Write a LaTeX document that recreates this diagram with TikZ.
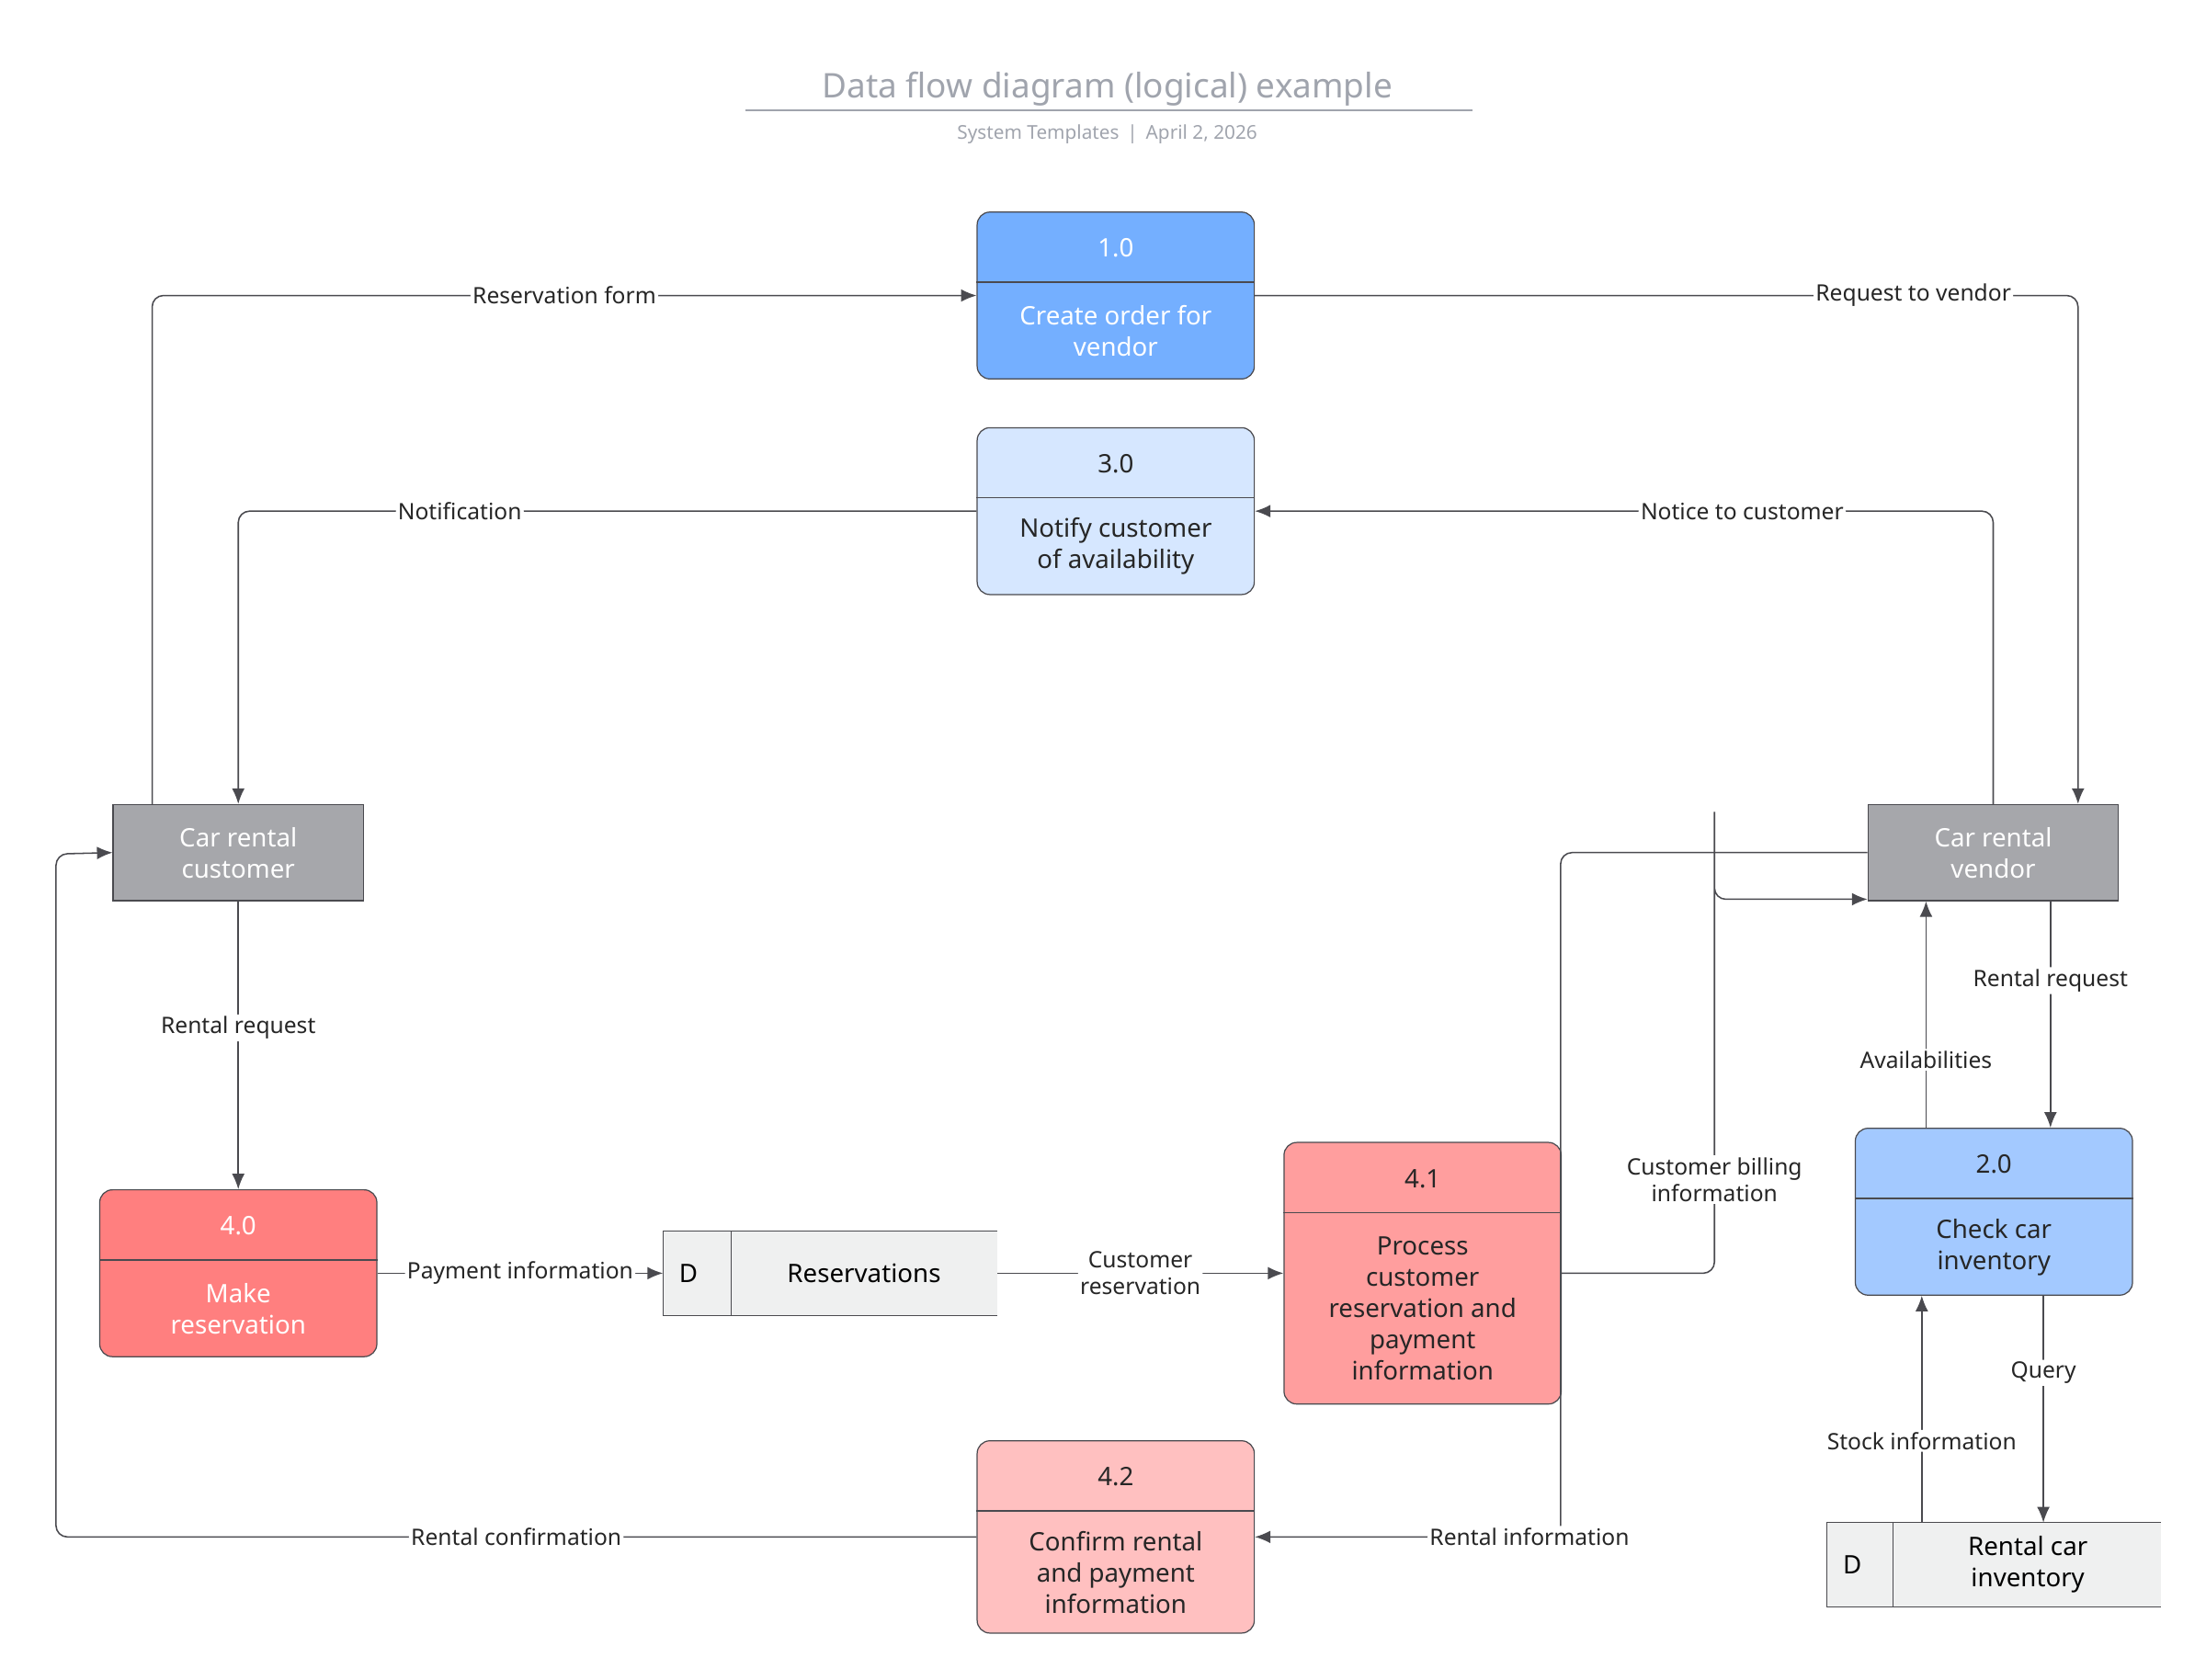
\documentclass[tikz,border=0pt]{standalone}
\usepackage{fontspec}
\setmainfont{Noto Sans}
\usetikzlibrary{arrows.meta,positioning}
\definecolor{edgegray}{HTML}{4A4A4F}
\definecolor{titlegray}{HTML}{A0A4AD}
\definecolor{entgray}{HTML}{A6A7AB}
\definecolor{pblue}{HTML}{74AFFF}
\definecolor{plblue}{HTML}{D6E7FF}
\definecolor{pmblue}{HTML}{A3C9FF}
\definecolor{pred}{HTML}{FF7F7F}
\definecolor{pmred}{HTML}{FF9E9E}
\definecolor{plred}{HTML}{FFC0C0}
\definecolor{storefill}{HTML}{EFF0F0}
\begin{document}
\begin{tikzpicture}[x=1pt,y=-1pt,
    proc/.style={draw=edgegray,rounded corners=9pt,line width=0.8pt,minimum width=196pt,inner sep=0pt},
    ent/.style={draw=edgegray,fill=entgray,line width=0.8pt,minimum width=177pt,minimum height=68pt,inner sep=0pt,
        text=white,align=center,font=\fontsize{18}{22}\selectfont},
    store/.style={fill=storefill,minimum height=59pt,minimum width=236pt,inner sep=0pt},
    ptxt/.style={align=center,font=\fontsize{18}{22}\selectfont},
    flow/.style={draw=edgegray,line width=1pt,rounded corners=8pt,-{Latex[length=11pt,width=9pt]}},
    lbl/.style={fill=white,inner sep=1.5pt,align=center,font=\fontsize{16}{19}\selectfont,text=black!85}]

\useasboundingbox (0,0) rectangle (1560,1188);

% title
\node[font=\fontsize{24}{28}\selectfont\bfseries,text=titlegray] (title) at (783,63) {Data flow diagram (logical) example};
\draw[titlegray,line width=1.2pt] (527,78) -- (1041,78);
\node[font=\fontsize{13.5}{16}\selectfont,text=titlegray] (sub) at (783,95) {System Templates \,\textbar\, April 2, 2026};

% processes
\newcommand\procbox[8]{%
  \node[proc,fill=#8,minimum height=#4pt] (#1) at (#2,#3) {};
  \draw[edgegray,line width=0.8pt] ([yshift=-50pt]#1.north west) -- ([yshift=-50pt]#1.north east);
  \node[ptxt,text=#7] (#1n) at ([yshift=-26pt]#1.north) {#5};
  \node[ptxt,text=#7,anchor=center] (#1t) at ($([yshift=-50pt]#1.north)!0.5!(#1.south)$) {#6};}
\usetikzlibrary{calc}

\procbox{p1}{789}{209}{118}{1.0}{Create order for\\ vendor}{white}{pblue}
\procbox{p3}{789}{361.5}{118}{3.0}{Notify customer\\ of availability}{black!85}{plblue}
\procbox{p4}{168.5}{900.5}{118}{4.0}{Make\\ reservation}{white}{pred}
\procbox{p41}{1006}{900.5}{185}{4.1}{Process\\ customer\\ reservation and\\ payment\\ information}{black!85}{pmred}
\procbox{p42}{789}{1087}{136}{4.2}{Confirm rental\\ and payment\\ information}{black!85}{plred}
\procbox{p2}{1410}{857}{118}{2.0}{Check car\\ inventory}{black!85}{pmblue}

% external entities
\node[ent] (cust) at (168.5,603) {Car rental\\ customer};
\node[ent] (vend) at (1409.5,603) {Car rental\\ vendor};

% data stores
\node[store] (res) at (587,900.5) {};
\draw[edgegray] (res.north east) -- (res.north west) -- (res.south west) -- (res.south east);
\draw[edgegray] ([xshift=48pt]res.north west) -- ([xshift=48pt]res.south west);
\node[ptxt,right=8pt of res.west] (resd) {D};
\node[ptxt] (rest) at ([xshift=24pt]res.center) {Reservations};

\node[store] (inv) at (1410,1106.5) {};
\draw[edgegray] (inv.north east) -- (inv.north west) -- (inv.south west) -- (inv.south east);
\draw[edgegray] ([xshift=47pt]inv.north west) -- ([xshift=47pt]inv.south west);
\node[ptxt,right=8pt of inv.west] (invd) {D};
\node[ptxt] (invt) at ([xshift=24pt]inv.center) {Rental car\\ inventory};

% flows
\draw[flow] ([xshift=28pt]cust.north west) |- node[lbl,pos=0.75]{Reservation form} (p1.west);
\draw[flow] (p1.east) -| node[lbl,pos=0.4]{Request to vendor} ([xshift=60pt]vend.north);
\draw[flow] (vend.north) |- node[lbl,pos=0.67]{Notice to customer} (p3.east);
\draw[flow] (p3.west) -| node[lbl,pos=0.35]{Notification} (cust.north);
\draw[flow] (cust.south) -- node[lbl,pos=0.44]{Rental request} (p4.north);
\draw[flow] (p4.east) -- node[lbl]{Payment information} (res.west);
\draw[flow] (res.east) -- node[lbl]{Customer\\ reservation} (p41.west);
\draw[flow] (p41.east) -| ++(108,-331) node[lbl,pos=0.6]{Customer billing\\ information} |- ([yshift=-33pt]vend.west);
\draw[flow] (vend.west) -| ([xshift=-217pt]vend.west |- p42.east) node[lbl,pos=1,xshift=-22pt]{Rental information} -- (p42.east);
\draw[flow] (p42.west) -| ++(-651,-483) node[lbl,pos=0.25]{Rental confirmation} -- (cust.west);
\draw[flow] ([xshift=-48pt]p2.north) -- node[lbl,pos=0.3]{Availabilities} ([xshift=-47.5pt]vend.south);
\draw[flow] ([xshift=40.5pt]vend.south) -- node[lbl,pos=0.35]{Rental request} ([xshift=40pt]p2.north);
\draw[flow] ([xshift=35pt]p2.south) -- node[lbl,pos=0.34]{Query} ([xshift=35pt]inv.north);
\draw[flow] ([xshift=-51pt]inv.north) -- node[lbl,pos=0.36]{Stock information} ([xshift=-51pt]p2.south);
\end{tikzpicture}
\end{document}
